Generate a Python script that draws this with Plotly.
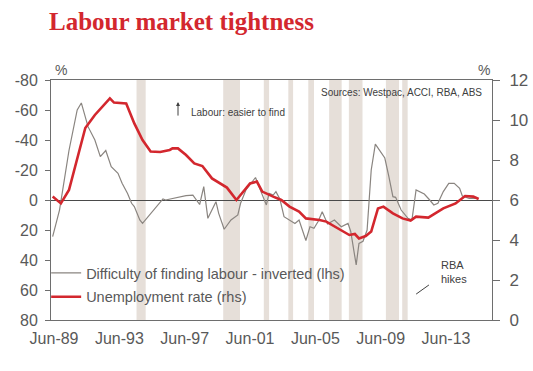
import plotly.graph_objects as go

# ---------------- data ----------------
unemp_dates = ["1989-05", "1989-11", "1990-05", "1991-05", "1991-12", "1992-07", "1992-11",
               "1993-02", "1993-11", "1994-05", "1994-11", "1995-05", "1995-12", "1996-07",
               "1996-09", "1997-01", "1997-07", "1998-01", "1998-07", "1999-02", "1999-09",
               "2000-01", "2000-08", "2001-06", "2001-11", "2002-03", "2002-11", "2003-05",
               "2003-11", "2004-06", "2004-11", "2005-09", "2006-02", "2006-12", "2007-07",
               "2007-11", "2008-02", "2008-07", "2008-11", "2009-04", "2009-08", "2010-03",
               "2010-10", "2011-04", "2011-08", "2012-05", "2013-04", "2014-01", "2014-08",
               "2015-02", "2015-06"]
unemp_values = [6.17, 5.83, 6.5, 9.6, 10.25, 10.75, 11.08,
                10.87, 10.83, 9.83, 9.0, 8.42, 8.4, 8.5,
                8.58, 8.58, 8.25, 7.83, 7.7, 7.08, 6.8,
                6.62, 6.0, 6.83, 6.92, 6.42, 6.17, 6.0,
                5.67, 5.42, 5.08, 5.0, 4.92, 4.5, 4.25,
                4.3, 4.08, 4.2, 4.42, 5.58, 5.67, 5.33,
                5.08, 4.97, 5.17, 5.12, 5.58, 5.83, 6.2,
                6.17, 6.05]

difficulty_dates = ["1989-05", "1989-10", "1990-05", "1990-11", "1991-02", "1991-07", "1991-12",
                    "1992-04", "1992-08", "1992-12", "1993-05", "1993-08", "1993-12", "1994-03",
                    "1994-05", "1994-09", "1994-11", "1995-04", "1995-09", "1996-02", "1996-04",
                    "1996-12", "1997-07", "1997-12", "1998-05", "1998-08", "1998-11", "1999-05",
                    "1999-07", "1999-11", "2000-04", "2000-09", "2000-11", "2001-03", "2001-10",
                    "2002-02", "2002-06", "2002-08", "2002-11", "2003-01", "2003-04", "2003-07",
                    "2003-11", "2004-03", "2004-06", "2004-11", "2005-02", "2005-05", "2005-08",
                    "2005-11", "2006-03", "2006-08", "2007-01", "2007-06", "2007-08", "2007-12",
                    "2008-02", "2008-05", "2008-08", "2008-11", "2009-02", "2009-05", "2009-09",
                    "2009-12", "2010-03", "2010-05", "2010-09", "2011-02", "2011-05", "2011-08",
                    "2012-02", "2012-06", "2012-09", "2012-12", "2013-04", "2013-08", "2013-12",
                    "2014-04", "2014-06", "2014-11", "2015-04"]
difficulty_values = [24.4, 6.7, -33, -60, -64.7, -48.9, -40,
                     -28.9, -33, -22.2, -17.8, -11.1, -4.4, 2.2,
                     4.4, 13.3, 15.6, 10, 4.4, -0.7, 0,
                     -1.6, -2.9, -3.3, 3, -8.9, 12.2, 1.1,
                     8.9, 19.5, 13.3, 10, 2.2, -6.7, -15,
                     -5.6, 3.3, -4.4, -3.3, -5.6, -0.5, 11.1,
                     13.3, 15.6, 13.3, 27, 17.8, 18.9, 14.4,
                     7.8, 16, 13.3, 17.8, 15.6, 21, 43.3,
                     28.9, 27.5, 20, -20, -37.3, -33.3, -28,
                     -15.6, -2.2, -1.8, 6.7, 12.2, 13.3, -6.7,
                     -4, 0, 3.3, 2.2, -5.6, -11.1, -11.1,
                     -7.8, -2.7, -1.1, -1.1]

hike_starts = ["1994-06-20", "1999-10-10", "2002-04-05", "2003-10-05", "2004-12-25",
               "2006-04-05", "2007-06-20", "2009-09-25", "2010-09-25"]
hike_ends = ["1995-01-10", "2000-10-20", "2002-08-01", "2004-01-20", "2005-05-01",
             "2007-01-10", "2008-04-20", "2010-07-15", "2011-01-25"]

x_tick_dates = ["1989-06-01", "1993-06-01", "1997-06-01", "2001-06-01",
                "2005-06-01", "2009-06-01", "2013-06-01"]
x_tick_labels = ["Jun-89", "Jun-93", "Jun-97", "Jun-01", "Jun-05", "Jun-09", "Jun-13"]
lhs_ticks = [-80, -60, -40, -20, 0, 20, 40, 60, 80]
lhs_tick_labels = [str(v) for v in lhs_ticks]
rhs_ticks = [0, 2, 4, 6, 8, 10, 12]

# ---------------- styling ----------------
RED = "#d3272e"
GRAY_LINE = "#8a8580"
AXIS = "#6e6e6e"
TXT = "#595959"
BAND = "#e6dfd9"
SANS = "Liberation Sans, Arial, sans-serif"

fig = go.Figure()
fig.add_trace(go.Scatter(
    x=difficulty_dates, y=difficulty_values, mode="lines",
    name="Difficulty of finding labour - inverted (lhs)",
    line=dict(color=GRAY_LINE, width=1.2), yaxis="y",
    legendgroup="a"))
fig.add_trace(go.Scatter(
    x=unemp_dates, y=unemp_values, mode="lines",
    name="Unemployment rate (rhs)",
    line=dict(color=RED, width=2.6), yaxis="y2",
    legendgroup="b"))

for s, e in zip(hike_starts, hike_ends):
    fig.add_shape(type="rect", xref="x", yref="paper", x0=s, x1=e, y0=0, y1=1,
                  fillcolor=BAND, line=dict(width=0), layer="below")

# pointer line for RBA hikes label
fig.add_shape(type="line", xref="paper", yref="paper",
              x0=0.828, y0=0.108, x1=0.857, y1=0.146,
              line=dict(color="#404040", width=1))

annotations = [
    dict(text="%", xref="paper", yref="paper", x=0.0227, y=1.0417,
         xanchor="center", yanchor="middle", showarrow=False,
         font=dict(size=14, color=TXT, family=SANS)),
    dict(text="%", xref="paper", yref="paper", x=0.982, y=1.0417,
         xanchor="center", yanchor="middle", showarrow=False,
         font=dict(size=14, color=TXT, family=SANS)),
    dict(text="Sources: Westpac, ACCI, RBA, ABS", xref="paper", yref="paper",
         x=0.982, y=0.946, xanchor="right", yanchor="middle", showarrow=False,
         font=dict(size=10, color="#404040", family=SANS)),
    dict(text="Labour: easier to find", xref="paper", yref="paper",
         x=0.313, y=0.8625, xanchor="left", yanchor="middle", showarrow=False,
         font=dict(size=10, color="#404040", family=SANS)),
    dict(text="", xref="paper", yref="paper", x=0.288, y=0.908,
         showarrow=True, ax=0, ay=15, arrowhead=2, arrowsize=0.8,
         arrowwidth=1, arrowcolor="#404040"),
    dict(text="RBA<br>hikes", xref="paper", yref="paper", x=0.880, y=0.198,
         xanchor="left", yanchor="middle", align="left", showarrow=False,
         font=dict(size=11, color="#404040", family=SANS)),
]

fig.update_layout(
    width=533, height=371,
    margin=dict(l=51, r=41, t=80, b=51, autoexpand=False),
    paper_bgcolor="white", plot_bgcolor="white",
    title=dict(text="<b>Labour market tightness</b>", xref="container", yref="container",
               x=0.092, xanchor="left", y=0.943, yanchor="middle",
               font=dict(family="Liberation Serif, Georgia, serif", size=25, color=RED)),
    showlegend=True,
    legend=dict(x=-0.011, y=0.2625, xanchor="left", yanchor="top",
                bgcolor="rgba(0,0,0,0)", borderwidth=0,
                traceorder="grouped", tracegroupgap=2,
                font=dict(size=14.5, color=TXT, family=SANS)),
    annotations=annotations,
    xaxis=dict(type="date", range=["1989-03-25", "2016-03-25"],
               tickmode="array", tickvals=x_tick_dates, ticktext=x_tick_labels,
               showgrid=False, zeroline=False, showline=True, linecolor=AXIS,
               linewidth=1, mirror=True, ticks="", ticklabelstandoff=4,
               automargin=False,
               tickfont=dict(size=16, color=TXT, family=SANS)),
    yaxis=dict(range=[80, -80], tickmode="array", tickvals=lhs_ticks,
               ticktext=lhs_tick_labels, showgrid=False, showline=True,
               linecolor=AXIS, linewidth=1, ticks="outside", ticklen=5,
               tickcolor=AXIS, zeroline=True, zerolinecolor="#4a4a4a",
               zerolinewidth=1, ticklabelstandoff=4, automargin=False,
               tickfont=dict(size=16, color=TXT, family=SANS)),
    yaxis2=dict(range=[0, 12], overlaying="y", side="right", tickmode="array",
                tickvals=rhs_ticks, showgrid=False, showline=True,
                linecolor=AXIS, linewidth=1, ticks="outside", ticklen=7,
                tickcolor=AXIS, zeroline=False, ticklabelstandoff=6,
                automargin=False,
                tickfont=dict(size=17, color=TXT, family=SANS)),
)

fig.write_html("out.html", config={"displayModeBar": False},
               post_script="document.body.style.margin='0';")
